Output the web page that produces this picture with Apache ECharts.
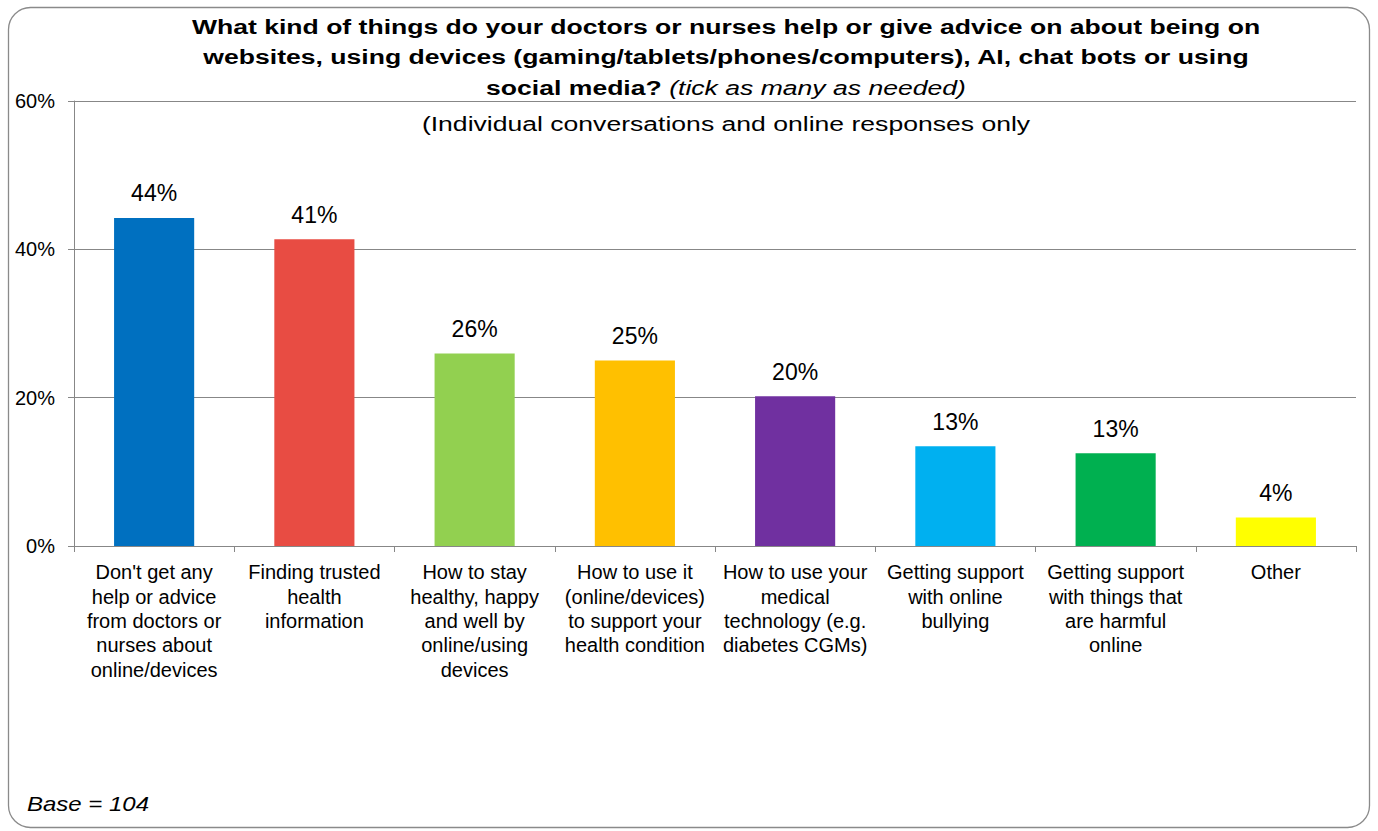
<!DOCTYPE html>
<html>
<head>
<meta charset="utf-8">
<script src="https://cdn.jsdelivr.net/npm/echarts@6/dist/echarts.min.js"></script>
<style>
  html, body { margin: 0; padding: 0; background: #ffffff; }
  #chart { width: 1378px; height: 831px; }
</style>
</head>
<body>
<div id="chart"></div>
<script>
// Answer options (x-axis categories, with their line breaks)
const categories = [
  "Don't get any\nhelp or advice\nfrom doctors or\nnurses about\nonline/devices",
  "Finding trusted\nhealth\ninformation",
  "How to stay\nhealthy, happy\nand well by\nonline/using\ndevices",
  "How to use it\n(online/devices)\nto support your\nhealth condition",
  "How to use your\nmedical\ntechnology (e.g.\ndiabetes CGMs)",
  "Getting support\nwith online\nbullying",
  "Getting support\nwith things that\nare harmful\nonline",
  "Other"
];

// Share of respondents (%) choosing each option, base = 104
const percentages = [44.23, 41.35, 25.96, 25.0, 20.19, 13.46, 12.5, 3.85];

// One fill per bar
const barColors = ["#0070C0", "#E84C43", "#92D050", "#FFC000", "#7030A0", "#00B0F0", "#00B050", "#FFFF00"];

// Value-axis ticks (%)
const yTicks = [0, 20, 40, 60];

// Heading lines, note and sample size
const titleLines = [
  "What kind of things do your doctors or nurses help or give advice on about being on",
  "websites, using devices (gaming/tablets/phones/computers), AI, chat bots or using",
  "social media? "
];
const titleNote = "(tick as many as needed)";
const subtitle = "(Individual conversations and online responses only";
const baseText = "Base = 104";

const FONT = "'Liberation Sans', Arial, sans-serif";
const TITLE_X = 726;
const WIDE = 1.265; // heading text is set horizontally widened

const chart = echarts.init(document.getElementById('chart'), null, { renderer: 'svg' });

function headingText(text, y, extra) {
  return Object.assign({
    type: 'text',
    silent: true,
    x: TITLE_X,
    y: y,
    scaleX: WIDE,
    z: 10,
    style: {
      text: text,
      x: 0, y: 0,
      fontFamily: FONT,
      fontSize: 21,
      fontWeight: 'bold',
      fill: '#000',
      align: 'center',
      verticalAlign: 'middle'
    }
  }, extra || {});
}

chart.setOption({
  animation: false,
  backgroundColor: '#ffffff',
  textStyle: { fontFamily: FONT, color: '#000000' },
  graphic: [
    {
      type: 'rect',
      silent: true,
      z: -1,
      shape: { x: 8.5, y: 7.5, width: 1361, height: 820, r: 22 },
      style: { fill: 'none', stroke: '#8a8a8a', lineWidth: 1.3 }
    },
    headingText(titleLines[0], 27),
    headingText(titleLines[1], 57),
    {
      type: 'text',
      silent: true,
      x: TITLE_X,
      y: 88,
      scaleX: WIDE,
      z: 10,
      style: {
        text: '{b|' + titleLines[2] + '}{i|' + titleNote + '}',
        x: 0, y: 0,
        fontFamily: FONT,
        fontSize: 21,
        fill: '#000',
        align: 'center',
        verticalAlign: 'middle',
        rich: {
          b: { fontFamily: FONT, fontSize: 21, fontWeight: 'bold', fill: '#000' },
          i: { fontFamily: FONT, fontSize: 21, fontWeight: 'normal', fontStyle: 'italic', fill: '#000' }
        }
      }
    },
    {
      type: 'text',
      silent: true,
      x: TITLE_X,
      y: 123.5,
      scaleX: WIDE,
      z: 10,
      style: {
        text: subtitle,
        x: 0, y: 0,
        fontFamily: FONT,
        fontSize: 21,
        fontWeight: 'normal',
        fill: '#000',
        align: 'center',
        verticalAlign: 'middle'
      }
    },
    {
      type: 'text',
      silent: true,
      x: 27,
      y: 804,
      scaleX: 1.2,
      style: {
        text: baseText,
        x: 0, y: 0,
        fontFamily: FONT,
        fontSize: 20,
        fontStyle: 'italic',
        fill: '#000',
        align: 'left',
        verticalAlign: 'middle'
      }
    }
  ],
  grid: { left: 74, right: 22, top: 101, bottom: 285, containLabel: false },
  xAxis: {
    type: 'category',
    data: categories,
    axisLine: { lineStyle: { color: '#878787', width: 1 } },
    axisTick: { show: true, length: 6, lineStyle: { color: '#878787' } },
    axisLabel: {
      interval: 0,
      margin: 14,
      fontFamily: FONT,
      fontSize: 20,
      lineHeight: 24.4,
      color: '#000',
      align: 'center'
    }
  },
  yAxis: {
    type: 'value',
    min: yTicks[0],
    max: yTicks[yTicks.length - 1],
    interval: yTicks[1] - yTicks[0],
    axisLine: { show: true, lineStyle: { color: '#878787', width: 1 } },
    axisTick: { show: true, length: 6, lineStyle: { color: '#878787' } },
    splitLine: { show: true, lineStyle: { color: '#878787', width: 1 } },
    axisLabel: {
      formatter: '{value}%',
      margin: 19,
      fontFamily: FONT,
      fontSize: 20,
      color: '#000'
    }
  },
  series: [
    {
      type: 'bar',
      data: percentages.map((v, i) => ({ value: v, itemStyle: { color: barColors[i] } })),
      barWidth: '50%',
      label: {
        show: true,
        position: 'top',
        distance: 13,
        fontFamily: FONT,
        fontSize: 23,
        color: '#000',
        formatter: p => Math.round(p.value) + '%'
      }
    }
  ]
});
</script>
</body>
</html>
